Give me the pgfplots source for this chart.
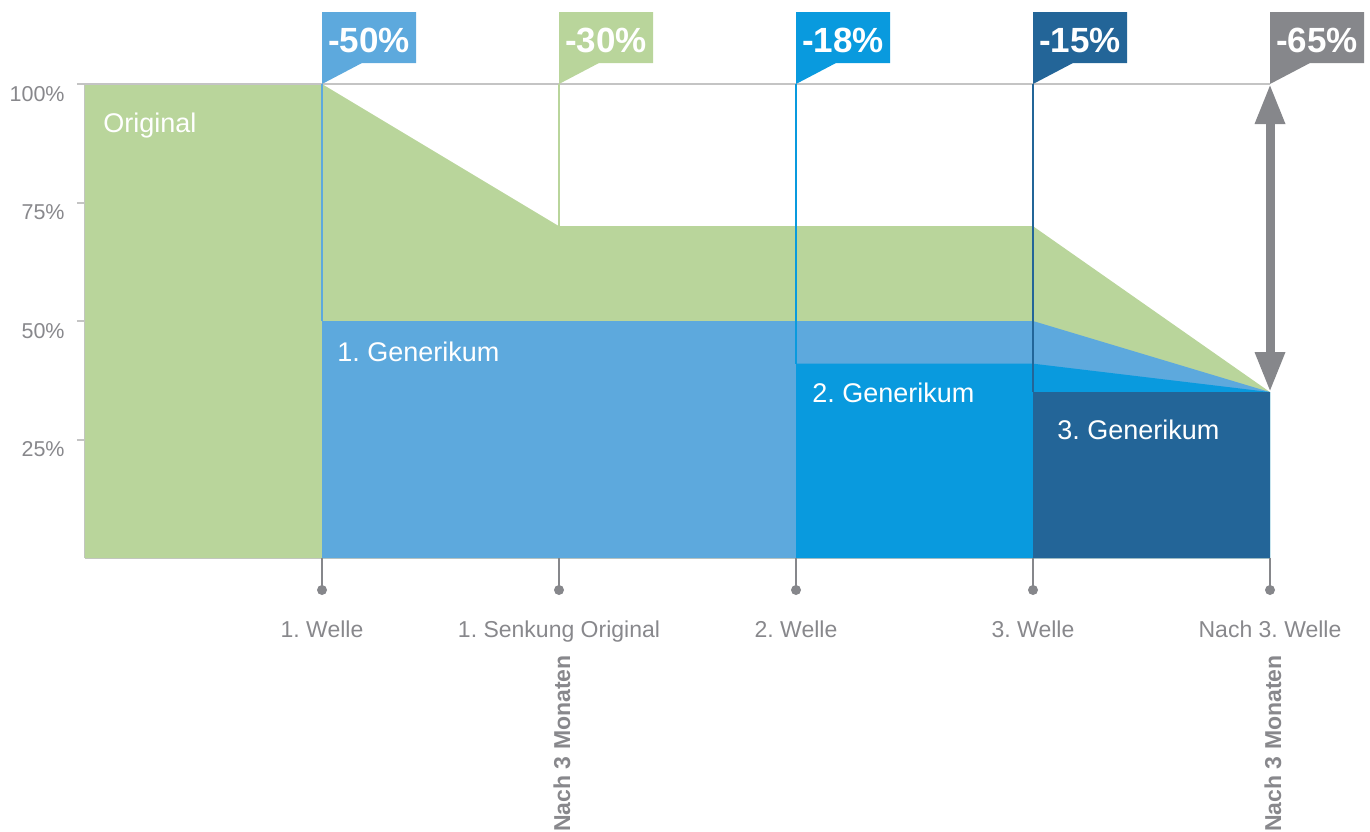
\documentclass[border=0pt]{standalone}
\usepackage{fontspec}
\setmainfont{Liberation Sans}
\usepackage{pgfplots}
\pgfplotsset{compat=1.18}
\usetikzlibrary{calc,arrows.meta}
\frenchspacing

\definecolor{cgreen}{HTML}{B9D59B}
\definecolor{cblueA}{HTML}{5DA9DD}
\definecolor{cblueB}{HTML}{099ADE}
\definecolor{cblueC}{HTML}{236598}
\definecolor{cgrey}{HTML}{86878B}
\definecolor{axgrey}{HTML}{C4C4C4}
\definecolor{txgrey}{HTML}{88888C}

% flag label above the 100% line: x position, colour, text
\newcommand{\flag}[3]{%
  \fill[#2] (axis cs:#1,100) -- ++(0,36pt) -- ++(47pt,0) -- ++(0,-25.5pt) -- ++(-27pt,0) -- cycle;
  \node[text=white, font=\bfseries\fontsize{17.5}{20}\selectfont, inner sep=0pt]
    at ($(axis cs:#1,100)+(23.5pt,21.75pt)$) {#3};
}

\begin{document}
\begin{tikzpicture}
\begin{axis}[
    scale only axis,
    width=592.5pt, height=237pt,
    xmin=0, xmax=5, ymin=0, ymax=100,
    axis lines=left,
    axis line style={draw=axgrey, line width=1pt, -},
    clip=false,
    xtick=\empty,
    ytick={25,50,75,100},
    yticklabels={25\%,50\%,75\%,100\%},
    tick align=outside,
    major tick length=4pt,
    y tick style={draw=axgrey, line width=1pt},
    yticklabel style={text=txgrey, font=\fontsize{10.75}{12}\selectfont,
        anchor=north east, inner sep=0pt, xshift=-6pt, yshift=-0.8pt},
]
\coordinate (O) at (axis cs:0,0);

% areas
\addplot[fill=cgreen, draw=none] coordinates {(0,100) (1,100) (2,70) (4,70) (5,35)} \closedcycle;
\addplot[fill=cblueA, draw=none] coordinates {(1,50) (4,50) (5,35)} \closedcycle;
\addplot[fill=cblueB, draw=none] coordinates {(3,41) (4,41) (5,35)} \closedcycle;
\addplot[fill=cblueC, draw=none] coordinates {(4,35) (5,35)} \closedcycle;

% 100% line
\draw[axgrey, line width=1pt] (axis cs:0,100) -- (axis cs:5,100);

% marker lines
\draw[cblueA, line width=1.2pt] (axis cs:1,100) -- (axis cs:1,50);
\draw[cgreen, line width=1.2pt] (axis cs:2,100) -- (axis cs:2,70);
\draw[cblueB, line width=1.2pt] (axis cs:3,100) -- (axis cs:3,41);
\draw[cblueC, line width=1.2pt] (axis cs:4,100) -- (axis cs:4,35);
\draw[cgrey, line width=4.5pt, {Triangle[length=20pt,width=14pt]}-{Triangle[length=20pt,width=14pt]}]
    (axis cs:5,100) -- (axis cs:5,35);

\flag{1}{cblueA}{-50\%}
\flag{2}{cgreen}{-30\%}
\flag{3}{cblueB}{-18\%}
\flag{4}{cblueC}{-15\%}
\flag{5}{cgrey}{-65\%}

% labels inside the areas
\node[anchor=base west, text=white, font=\fontsize{13.5}{15}\selectfont, inner sep=0pt]
    at ($(axis cs:0,100)+(9pt,-24pt)$) {Original};
\node[anchor=base west, text=white, font=\fontsize{13.5}{15}\selectfont, inner sep=0pt]
    at ($(axis cs:1,50)+(7.5pt,-20pt)$) {1. Generikum};
\node[anchor=base west, text=white, font=\fontsize{13.5}{15}\selectfont, inner sep=0pt]
    at ($(axis cs:3,41)+(8pt,-19.5pt)$) {2. Generikum};
\node[anchor=base west, text=white, font=\fontsize{13.5}{15}\selectfont, inner sep=0pt]
    at ($(axis cs:4,35)+(12pt,-23.5pt)$) {3. Generikum};

% x ticks with dots and labels
\pgfplotsinvokeforeach{1,2,3,4,5}{
  \draw[cgrey, line width=1pt] (axis cs:#1,0) -- ++(0,-16pt);
  \fill[cgrey] ($(axis cs:#1,0)+(0,-16pt)$) circle (2.5pt);
}
\node[anchor=base, text=txgrey, font=\fontsize{11.5}{13}\selectfont, inner sep=0pt]
    at ($(axis cs:1,0)+(0,-39.5pt)$) {1. Welle};
\node[anchor=base, text=txgrey, font=\fontsize{11.5}{13}\selectfont, inner sep=0pt]
    at ($(axis cs:2,0)+(0,-39.5pt)$) {1. Senkung Original};
\node[anchor=base, text=txgrey, font=\fontsize{11.5}{13}\selectfont, inner sep=0pt]
    at ($(axis cs:3,0)+(0,-39.5pt)$) {2. Welle};
\node[anchor=base, text=txgrey, font=\fontsize{11.5}{13}\selectfont, inner sep=0pt]
    at ($(axis cs:4,0)+(0,-39.5pt)$) {3. Welle};
\node[anchor=base, text=txgrey, font=\fontsize{11.5}{13}\selectfont, inner sep=0pt]
    at ($(axis cs:5,0)+(0,-39.5pt)$) {Nach 3. Welle};

\node[rotate=90, anchor=east, text=txgrey, font=\bfseries\fontsize{11.5}{13}\selectfont, inner sep=0pt]
    at ($(axis cs:2,0)+(1.5pt,-48.5pt)$) {Nach 3 Monaten};
\node[rotate=90, anchor=east, text=txgrey, font=\bfseries\fontsize{11.5}{13}\selectfont, inner sep=0pt]
    at ($(axis cs:5,0)+(1.5pt,-48.5pt)$) {Nach 3 Monaten};
\end{axis}
\pgfresetboundingbox
\useasboundingbox ($(O)+(-42.5pt,-136.5pt)$) rectangle ($(O)+(642.5pt,279pt)$);
\end{tikzpicture}
\end{document}
